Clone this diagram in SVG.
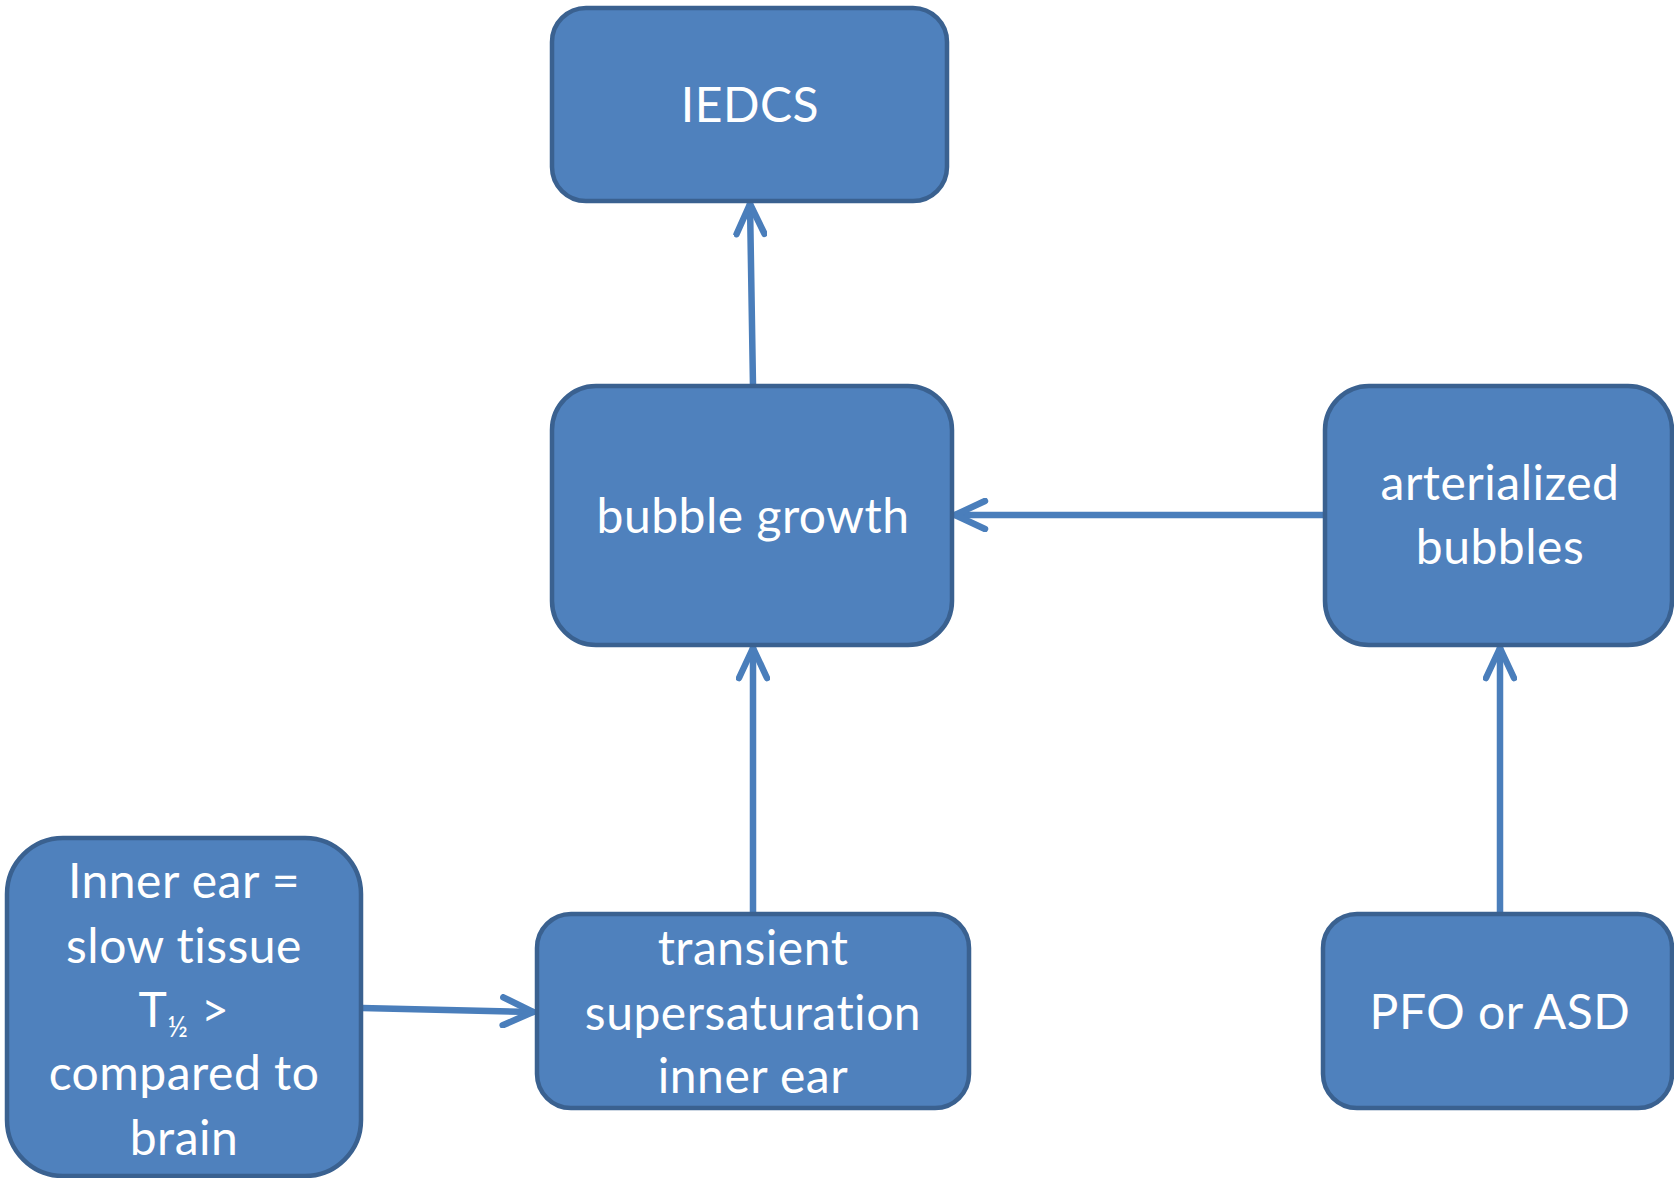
<svg xmlns="http://www.w3.org/2000/svg" width="1674" height="1178" viewBox="0 0 1674 1178">
<defs>
<style>
.box{fill:#4F81BD;stroke:#3A6190;stroke-width:4.5}
.t{font-family:Lato,"Liberation Sans",sans-serif;font-size:48px;letter-spacing:0.5px;fill:#FFFFFF;text-anchor:middle;font-variant-ligatures:none}
.c{stroke:#4A7EBB;stroke-width:6.5;fill:none;stroke-linecap:round;stroke-linejoin:round}
</style>
<marker id="arr" viewBox="-34 -17 38 34" refX="0" refY="0" markerWidth="38" markerHeight="34" markerUnits="userSpaceOnUse" orient="auto">
<path d="M-30,-14 L0,0 L-30,14" fill="none" stroke="#4A7EBB" stroke-width="6.5" stroke-linecap="round" stroke-linejoin="round"/>
</marker>
</defs>
<rect width="1674" height="1178" fill="#FFFFFF"/>
<g id="connectors">
<line class="c" x1="753" y1="386" x2="750" y2="204" marker-end="url(#arr)"/>
<line class="c" x1="1325" y1="515" x2="955" y2="515" marker-end="url(#arr)"/>
<line class="c" x1="753" y1="914" x2="753" y2="648" marker-end="url(#arr)"/>
<line class="c" x1="1500" y1="914" x2="1500" y2="648" marker-end="url(#arr)"/>
<line class="c" x1="362" y1="1008" x2="533" y2="1012" marker-end="url(#arr)"/>
</g>
<g id="iedcs">
<rect class="box" x="552" y="8" width="395" height="193" rx="34"/>
<text class="t" x="750" y="122">IEDCS</text>
</g>
<g id="bubble-growth">
<rect class="box" x="552" y="386" width="400" height="259" rx="44"/>
<text class="t" x="753" y="533">bubble growth</text>
</g>
<g id="arterialized-bubbles">
<rect class="box" x="1325" y="386" width="347" height="259" rx="44"/>
<text class="t" x="1500" y="500">arterialized</text>
<text class="t" x="1500" y="564">bubbles</text>
</g>
<g id="inner-ear">
<rect class="box" x="7" y="838" width="354" height="338" rx="56"/>
<text class="t" x="184" y="898">Inner ear =</text>
<text class="t" x="184" y="963">slow tissue</text>
<text class="t" x="184" y="1027">T<tspan font-size="28" dy="10">½</tspan><tspan dy="-10"> &gt;</tspan></text>
<text class="t" x="184" y="1090">compared to</text>
<text class="t" x="184" y="1155">brain</text>
</g>
<g id="transient">
<rect class="box" x="537" y="914" width="432" height="194" rx="34"/>
<text class="t" x="753" y="965">transient</text>
<text class="t" x="753" y="1030">supersaturation</text>
<text class="t" x="753" y="1093">inner ear</text>
</g>
<g id="pfo-asd">
<rect class="box" x="1323" y="914" width="349" height="194" rx="34"/>
<text class="t" x="1500" y="1029">PFO or ASD</text>
</g>
</svg>
